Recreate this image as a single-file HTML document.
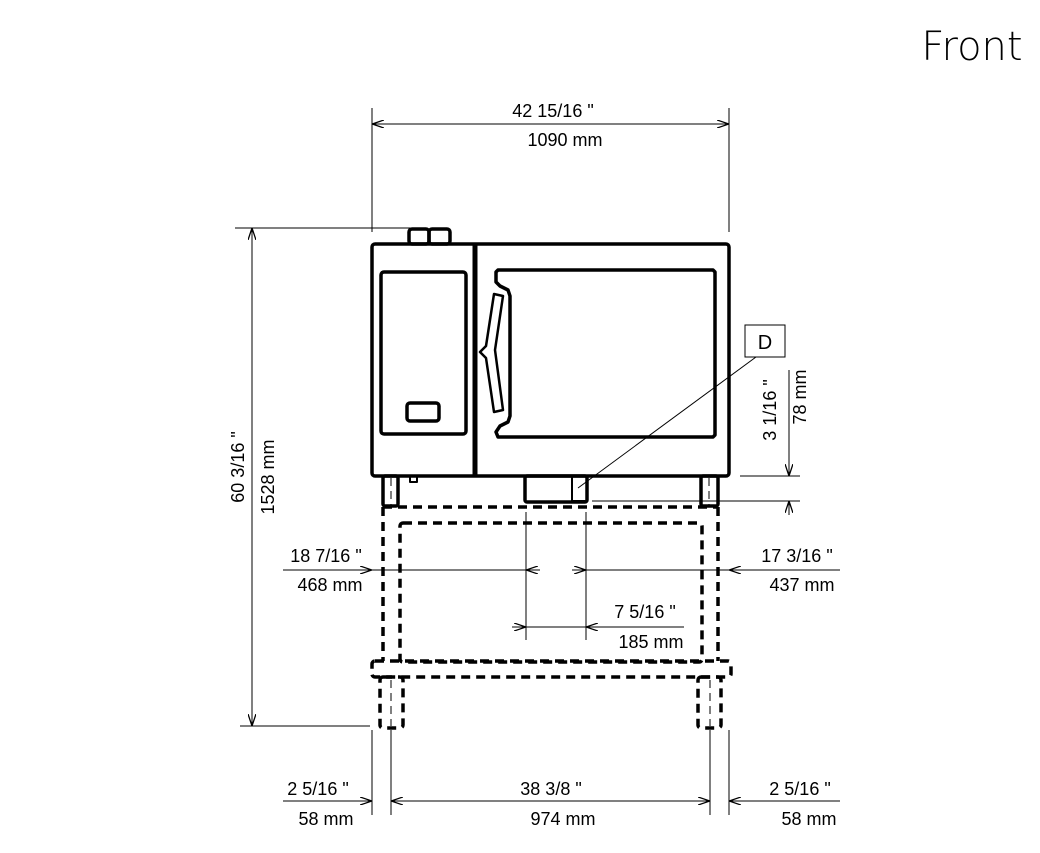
<!DOCTYPE html>
<html><head><meta charset="utf-8"><style>
html,body{margin:0;padding:0;background:#fff;}
svg{display:block;}
text{font-family:"Liberation Sans Narrow","Liberation Sans",sans-serif;fill:#000;}
</style></head><body>
<svg width="1040" height="853" viewBox="0 0 1040 853" xmlns="http://www.w3.org/2000/svg">
<defs>
<marker id="a" viewBox="0 0 12 8" refX="12" refY="4" markerWidth="12" markerHeight="8" markerUnits="userSpaceOnUse" orient="auto-start-reverse">
<path d="M0,0 L12,4 L0,8" fill="none" stroke="#000" stroke-width="1.3"/>
</marker>
</defs>
<text x="972" y="60" font-size="40" text-anchor="middle" style="font-family:'DejaVu Sans','Liberation Sans',sans-serif;font-weight:300">Front</text>

<g stroke="#000" stroke-width="1" fill="none">
<line x1="372" y1="108" x2="372" y2="232"/>
<line x1="729" y1="108" x2="729" y2="232"/>
<line x1="372" y1="124" x2="729" y2="124" marker-start="url(#a)" marker-end="url(#a)"/>
<line x1="235" y1="228" x2="420" y2="228"/>
<line x1="240" y1="726" x2="370" y2="726"/>
<line x1="252" y1="228" x2="252" y2="726" marker-start="url(#a)" marker-end="url(#a)"/>
<line x1="740" y1="476" x2="800" y2="476"/>
<line x1="592" y1="501" x2="800" y2="501"/>
<line x1="789" y1="370" x2="789" y2="476" marker-end="url(#a)"/>
<line x1="789" y1="515" x2="789" y2="501" marker-end="url(#a)"/>
<rect x="745" y="325" width="40" height="32"/>
<line x1="756" y1="357" x2="578" y2="488"/>
<line x1="283" y1="570" x2="372" y2="570" marker-end="url(#a)"/>
<line x1="372" y1="570" x2="526" y2="570"/>
<line x1="540" y1="570" x2="526" y2="570" marker-end="url(#a)"/>
<line x1="572" y1="570" x2="586" y2="570" marker-end="url(#a)"/>
<line x1="586" y1="570" x2="729" y2="570"/>
<line x1="840" y1="570" x2="729" y2="570" marker-end="url(#a)"/>
<line x1="526" y1="512" x2="526" y2="640"/>
<line x1="586" y1="512" x2="586" y2="640"/>
<line x1="512" y1="627" x2="526" y2="627" marker-end="url(#a)"/>
<line x1="526" y1="627" x2="586" y2="627"/>
<line x1="684" y1="627" x2="586" y2="627" marker-end="url(#a)"/>
<line x1="372" y1="730" x2="372" y2="815"/>
<line x1="391" y1="730" x2="391" y2="815"/>
<line x1="710" y1="730" x2="710" y2="815"/>
<line x1="729" y1="730" x2="729" y2="815"/>
<line x1="283" y1="801" x2="372" y2="801" marker-end="url(#a)"/>
<line x1="391" y1="801" x2="710" y2="801" marker-start="url(#a)" marker-end="url(#a)"/>
<line x1="840" y1="801" x2="729" y2="801" marker-end="url(#a)"/>
</g>

<g stroke="#000" stroke-width="3.5" fill="none" stroke-linejoin="round">
<rect x="409" y="229" width="20" height="15" rx="3"/>
<rect x="429" y="229" width="21" height="15" rx="3"/>
<rect x="372" y="244" width="357" height="232" rx="3"/>
<line x1="475" y1="244" x2="475" y2="476" stroke-width="5"/>
<rect x="381" y="272" width="85" height="162" rx="3"/>
<rect x="407" y="403" width="32" height="18" rx="3"/>
<path d="M498,270 L713,270 L715,272 L715,435 L713,437 L498,437 L496,432 L500,426 L508,422 L510,416 L510,296 L508,290 L500,286 L496,282 L496,272 Z"/>
<path d="M494,294 L503,296 L495,350 L503,410 L494,412 L486,358 L480,352 L486,346 Z" stroke-width="2.5"/>
<rect x="383" y="476" width="15" height="30" rx="2"/>
<rect x="701" y="476" width="17" height="30" rx="2"/>
<rect x="525" y="476" width="62" height="26" rx="2"/>
<rect x="572" y="476" width="15" height="25" stroke-width="2"/>
<rect x="410" y="476" width="7" height="6" stroke-width="2"/>
</g>

<g stroke="#000" stroke-width="3.5" fill="none" stroke-dasharray="9,6">
<line x1="383" y1="507" x2="718" y2="507"/>
<line x1="383" y1="507" x2="383" y2="661"/>
<line x1="718" y1="507" x2="718" y2="661"/>
<rect x="400" y="523" width="302" height="139" rx="3"/>
<rect x="372" y="661" width="359" height="16" rx="3"/>
<rect x="380" y="677" width="23" height="51" rx="3"/>
<rect x="698" y="677" width="23" height="51" rx="3"/>
</g>
<g stroke="#000" stroke-width="1" fill="none" stroke-dasharray="8,5">
<line x1="391" y1="478" x2="391" y2="506"/>
<line x1="709" y1="478" x2="709" y2="506"/>
<line x1="391" y1="680" x2="391" y2="726"/>
<line x1="710" y1="680" x2="710" y2="726"/>
</g>

<g font-size="18" text-anchor="middle">
<text x="553" y="117">42  15/16 "</text>
<text x="565" y="146">1090 mm</text>
<text x="326" y="562">18  7/16 "</text>
<text x="330" y="591">468 mm</text>
<text x="797" y="562">17  3/16 "</text>
<text x="802" y="591">437 mm</text>
<text x="645" y="618">7  5/16 "</text>
<text x="651" y="648">185 mm</text>
<text x="318" y="795">2  5/16 "</text>
<text x="326" y="825">58 mm</text>
<text x="551" y="795">38  3/8 "</text>
<text x="563" y="825">974 mm</text>
<text x="800" y="795">2  5/16 "</text>
<text x="809" y="825">58 mm</text>
<text x="765" y="349" font-size="20">D</text>
<text transform="translate(244,467) rotate(-90)">60  3/16 "</text>
<text transform="translate(274,477) rotate(-90)">1528 mm</text>
<text transform="translate(776,410) rotate(-90)">3  1/16 "</text>
<text transform="translate(806,397) rotate(-90)">78 mm</text>
</g>
</svg>
</body></html>
